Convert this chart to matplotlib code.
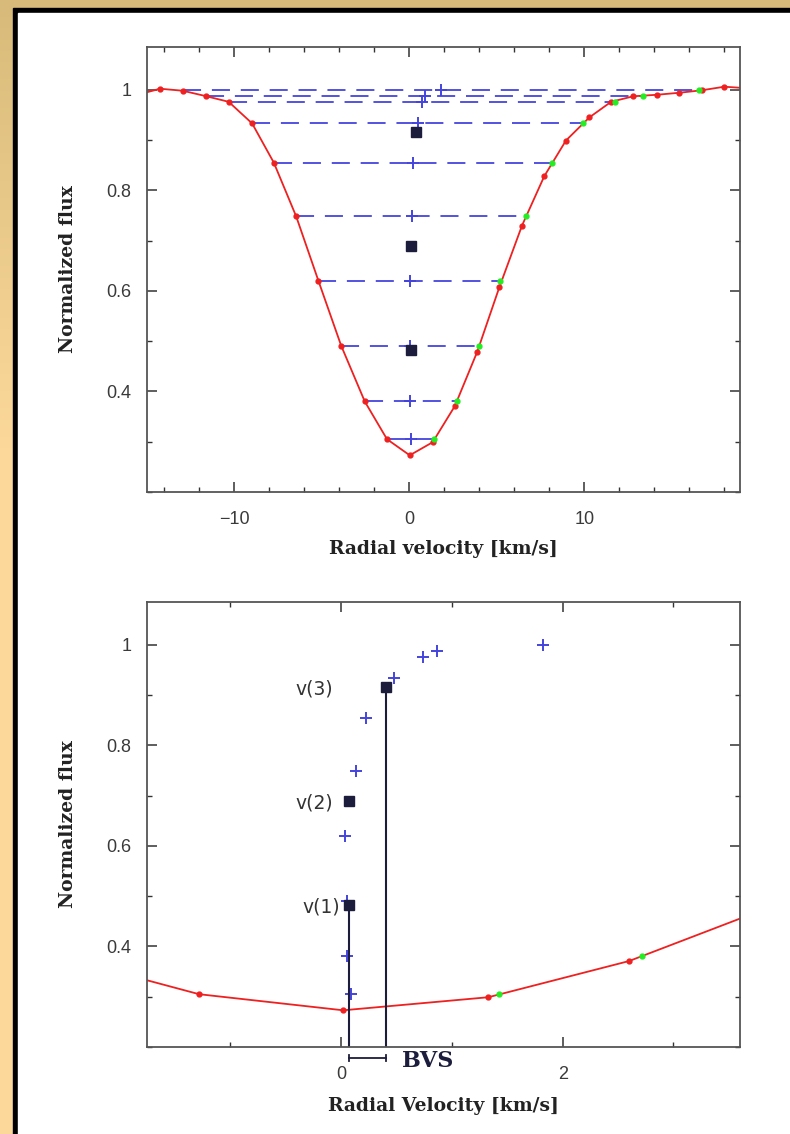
import matplotlib
matplotlib.use('Agg')
import matplotlib.pyplot as plt
import numpy as np
from matplotlib.patches import Rectangle
from matplotlib.ticker import MultipleLocator, FixedLocator

# line profile (red points)
prof_v = [-15.55, -14.25, -12.95, -11.6, -10.33, -8.99, -7.75, -6.47, -5.2, -3.9,
          -2.55, -1.28, 0.02, 1.33, 2.6, 3.88, 5.14, 6.44, 7.71, 8.95,
          10.29, 11.53, 12.8, 14.15, 15.43, 16.73, 18.0, 19.3]
prof_f = [0.990, 1.002, 0.998, 0.987, 0.976, 0.933, 0.855, 0.748, 0.620, 0.491,
          0.380, 0.305, 0.273, 0.299, 0.371, 0.479, 0.607, 0.730, 0.828, 0.899,
          0.945, 0.976, 0.987, 0.990, 0.994, 0.999, 1.006, 1.003]

# bisector levels: left wing, right wing (green), bisector (+)
lev_f = [0.305, 0.380, 0.491, 0.620, 0.748, 0.855, 0.933, 0.976, 0.988, 0.999]
lev_left = [-1.28, -2.55, -3.9, -5.2, -6.47, -7.75, -8.99, -10.33, -11.6, -12.95]
lev_right = [1.43, 2.72, 3.96, 5.2, 6.67, 8.15, 9.94, 11.77, 13.33, 16.53]
bis_v = [0.09, 0.054, 0.054, 0.036, 0.135, 0.225, 0.48, 0.74, 0.87, 1.82]

# mean bisector velocities
sq_v = [0.072, 0.072, 0.405]
sq_f = [0.483, 0.690, 0.916]
sq_lab = ['v(1)', 'v(2)', 'v(3)']
lab_x = [-0.01, -0.075, -0.075]   # right edge of the v(i) labels

yticks = [0.4, 0.6, 0.8, 1.0]

RED = '#ee2020'
GREEN = '#22ee22'
BLUE = '#4444dd'
NAVY = '#1c1c3c'

fig = plt.figure(figsize=(7.9, 11.34), dpi=100)

# background frame
bg = fig.add_axes([0, 0, 1, 1])
bg.set_xlim(0, 790)
bg.set_ylim(1134, 0)
bg.axis('off')
c1 = np.array([0xd8, 0xbb, 0x7a]) / 255
c2 = np.array([0xfc, 0xd9, 0x9b]) / 255
t = np.clip(np.linspace(0, 1, 200) * 1134 / 450, 0, 1)[:, None]
grad = (c1 * (1 - t) + c2 * t)[:, None, :]
bg.imshow(grad, extent=[0, 790, 1134, 0], aspect='auto')
bg.add_patch(Rectangle((12.5, 7.5), 800, 1200, color='black'))
bg.add_patch(Rectangle((17.5, 13), 800, 1200, color='white'))

def style(ax, xmaj, xmin):
    ax.set_ylim(0.2, 1.085)
    ax.yaxis.set_major_locator(FixedLocator(yticks))
    ax.yaxis.set_minor_locator(MultipleLocator(0.1))
    ax.xaxis.set_major_locator(MultipleLocator(xmaj))
    ax.xaxis.set_minor_locator(MultipleLocator(xmin))
    ax.tick_params(which='both', direction='in', top=True, right=True,
                   color='#333333', labelcolor='#3a3a3a', labelsize=13)
    ax.tick_params(axis='x', which='major', pad=14)
    ax.tick_params(axis='y', which='major', pad=11)
    ax.tick_params(which='major', length=7, width=1.1)
    ax.tick_params(which='minor', length=3.5, width=1.0)
    for s in ax.spines.values():
        s.set_color('#555555')
        s.set_linewidth(1.3)
    ax.yaxis.set_major_formatter(plt.FuncFormatter(lambda v, p: ('%g' % v)))
    ax.xaxis.set_major_formatter(plt.FuncFormatter(lambda v, p: ('%g' % v).replace('-', '\u2212')))
    ax.set_ylabel('Normalized flux', family='DejaVu Serif', weight='bold',
                  fontsize=13.5, labelpad=21, color='#222222')
    for lab in ax.get_xticklabels() + ax.get_yticklabels():
        lab.set_family('Liberation Sans')

# top panel
ax1 = fig.add_axes([147 / 790, 1 - 492 / 1134, 593 / 790, 445 / 1134])
ax1.set_xlim(-15, 18.9)
style(ax1, 10, 2)
for f, l, r in zip(lev_f, lev_left, lev_right):
    ax1.plot([l, r], [f, f], color=BLUE, lw=1.3, dashes=(10, 6))
ax1.plot(prof_v, prof_f, color=RED, lw=1.3, marker='o', ms=3.5, mec=RED, mfc=RED)
ax1.plot(lev_right, lev_f, 'o', color=GREEN, ms=3.5)
ax1.plot(bis_v, lev_f, '+', color=BLUE, ms=8.5, mew=1.4)
ax1.plot(sq_v, sq_f, 's', color=NAVY, ms=6.5)
ax1.set_xlabel('Radial velocity [km/s]', family='DejaVu Serif', weight='bold',
               fontsize=13.5, labelpad=8, color='#222222')

# bottom panel (zoom on bisector)
ax2 = fig.add_axes([147 / 790, 1 - 1047 / 1134, 593 / 790, 445 / 1134])
ax2.set_xlim(-1.75, 3.6)
style(ax2, 2, 1)
ax2.plot(prof_v, prof_f, color=RED, lw=1.3, marker='o', ms=3.5, mec=RED, mfc=RED)
ax2.plot(lev_right, lev_f, 'o', color=GREEN, ms=3.5)
ax2.plot(bis_v, lev_f, '+', color=BLUE, ms=8.5, mew=1.4)
ax2.vlines([sq_v[0], sq_v[2]], 0.2, [sq_f[0], sq_f[2]], color=NAVY, lw=1.5)
ax2.plot(sq_v, sq_f, 's', color=NAVY, ms=6.5)
for x, f, s in zip(lab_x, sq_f, sq_lab):
    ax2.text(x, f - 0.005, s, ha='right', va='center', fontsize=13.5,
             family='DejaVu Sans', color='#333333')
# BVS bracket below the axis
yb = 0.178
ax2.plot([sq_v[0], sq_v[2]], [yb, yb], color=NAVY, lw=1.3, clip_on=False)
ax2.plot([sq_v[0], sq_v[0]], [yb - 0.006, yb + 0.006], color=NAVY, lw=1.3, clip_on=False)
ax2.plot([sq_v[2], sq_v[2]], [yb - 0.006, yb + 0.006], color=NAVY, lw=1.3, clip_on=False)
ax2.text(0.55, 0.172, 'BVS', ha='left', va='center', fontsize=16,
         family='DejaVu Serif', weight='bold', color=NAVY)
ax2.set_xlabel('Radial Velocity [km/s]', family='DejaVu Serif', weight='bold',
               fontsize=13.5, labelpad=10, color='#222222')

fig.savefig('out.png', dpi=100)
